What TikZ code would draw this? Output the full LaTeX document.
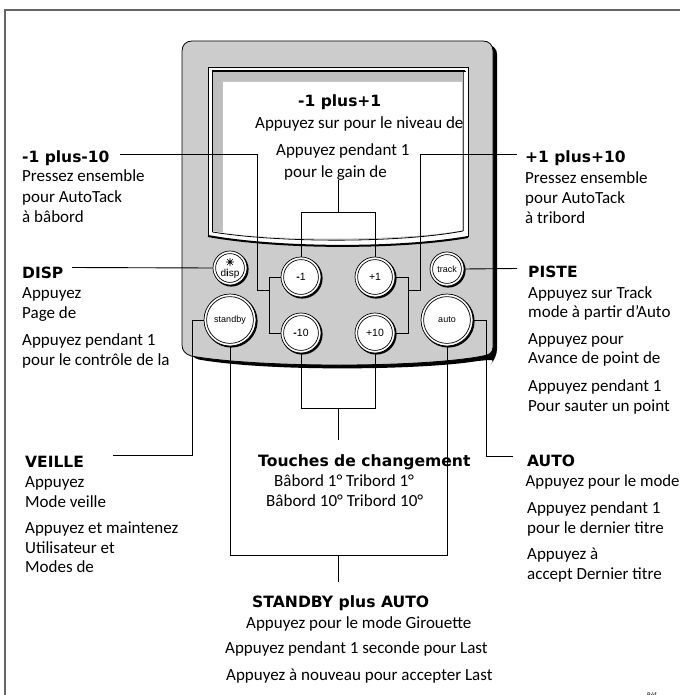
\documentclass[tikz,border=0pt]{standalone}
\usepackage{fontspec}
\setmainfont{Carlito}
\newfontfamily\btnfont{Liberation Sans}
\newfontfamily\headfont{DejaVu Sans}
\tikzset{
  wire/.style={draw=black,line width=0.9pt},
  txt/.style={anchor=base west,inner sep=0pt,font=\fontsize{17}{17}\selectfont},
  txtfit/.style={anchor=base west,inner sep=0pt,font=\fontsize{16.8}{17}\selectfont},
  hb/.style={anchor=base west,inner sep=0pt,font=\headfont\bfseries\fontsize{15.5}{15}\selectfont},
  hc/.style={anchor=base west,inner sep=0pt,font=\headfont\bfseries\fontsize{15.6}{15}\selectfont},
  btn/.style={circle,draw=black,line width=0.7pt,fill=white,inner sep=0pt,font=\btnfont\fontsize{9}{9}\selectfont},
  numbtn/.style={btn,font=\btnfont\fontsize{10.5}{10}\selectfont},
  ring/.style={draw=black,line width=0.7pt},
  shadow/.style={fill=black,draw=none}
}
\newcommand{\Btn}[6]{% style, name, x, y, radius, label
  \fill[shadow] (#3+1.2,#4+1.2) circle ({#5+0.4});
  \node[#1,minimum size={2*#5 pt}] (#2) at (#3,#4) {#6};
  \draw[ring] (#3,#4) circle ({#5-2.6});
}
\begin{document}
\begin{tikzpicture}[x=1pt,y=-1pt]
\useasboundingbox (0,0) rectangle (680,695);
\fill[white] (0,0) rectangle (680,695);
% page frame
\draw[draw=black!60,line width=1.8pt] (5,695) -- (5,10) -- (680,10);
% device shadow
\fill[black,rounded corners=9pt] (300,45) -- (497,45) -- (497,358)
  .. controls (495,360) and (490,360) .. (484,360)
  .. controls (420,370) and (270,372) .. (190,358) -- (190,300) -- cycle;
% device body
\draw[fill=black!20,draw=black,line width=0.8pt] (192,41) -- (483,41)
  .. controls (489,41) and (493,45) .. (493,51) -- (493,347)
  .. controls (493,353) and (489,355) .. (483,356)
  .. controls (420,368) and (260,368) .. (191,356)
  .. controls (185,354) and (182,350) .. (182,345)
  -- (182,51) .. controls (182,45) and (186,41) .. (192,41) -- cycle;
% screen
\fill[white] (208,67) -- (468,67) -- (468,237)
  .. controls (400,249) and (280,249) .. (208,236) -- cycle;
\draw[draw=black,line width=0.7pt] (208,236) -- (208,67) -- (468,67) -- (468,237);
\draw[draw=black,line width=2pt] (208,236) .. controls (280,249) and (400,249) .. (468,237);
\fill[black!25] (213,71) -- (463,71) -- (463,231)
  .. controls (400,242) and (280,242) .. (213,231) -- cycle;
\fill[white] (223,82) -- (462,82) -- (462,230.5)
  .. controls (400,241) and (280,241) .. (223,232.5) -- cycle;
\draw[draw=black,line width=1.6pt] (212.5,232) -- (212.5,71) -- (465,71);
\draw[draw=black,line width=1.3pt] (465,71) -- (465,72);
\draw[draw=black!70,line width=0.8pt] (463,72) -- (463,231);
\draw[draw=black,line width=0.8pt] (212.5,232) .. controls (280,243) and (400,243) .. (463,231);
% buttons
\Btn{btn}{bdisp}{230}{268}{17}{}
\Btn{numbtn}{bminus}{301}{277}{20}{\textbf{-}1}
\Btn{numbtn}{bplus}{375}{277}{20}{+1}
\Btn{numbtn}{bminusten}{301}{333}{20}{\textbf{-}10}
\Btn{numbtn}{bplusten}{375}{333}{20}{+10}
\Btn{btn}{btrack}{447}{269}{17}{track}
\Btn{btn}{bstandby}{230}{320}{26}{standby}
\Btn{btn}{bauto}{447}{320}{26}{auto}
\node[inner sep=0pt,font=\btnfont\fontsize{10}{10}\selectfont] (ldisp) at (230,274) {d\textbf{i}sp};
\fill[black] (230,262) circle (1.7);
\draw[line width=0.6pt] (226,262) -- (234,262) (230,258) -- (230,266) (227.2,259.2) -- (232.8,264.8) (227.2,264.8) -- (232.8,259.2);
% coordinates
\coordinate (lstart) at (120,154.5);
\coordinate (rstart) at (517,154.5);
\coordinate (ltop) at (257,154.5);
\coordinate (lfoot) at (257,290);
\coordinate (rtop) at (420,154.5);
\coordinate (rfoot) at (420,290);
\coordinate (dispend) at (72,267.5);
\coordinate (trackend) at (517,268.5);
\coordinate (mtop) at (338,212);
\coordinate (mend) at (338,180);
\coordinate (bbar) at (338,408);
\coordinate (bend) at (338,440);
\coordinate (sbar) at (338,555);
\coordinate (send) at (338,582);
% connectors
\draw[wire] (lstart) -- (ltop) -- (lfoot) -- (269,290);
\draw[wire] (bminus.west) -- (269,277) -- (269,333) -- (bminusten.west);
\draw[wire] (rstart) -- (rtop) -- (rfoot) -- (408,290);
\draw[wire] (bplus.east) -- (408,277) -- (408,333) -- (bplusten.east);
\draw[wire] (bminus.north) -- (301,212) -- (375,212) -- (bplus.north);
\draw[wire] (mtop) -- (mend);
\draw[wire] (dispend) -- (bdisp.west);
\draw[wire] (btrack.east) -- (trackend);
\draw[wire] (bstandby.west) -- (192,320) -- (192,455) -- (113,455);
\draw[wire] (bstandby.south) -- (230,555) -- (447,555) -- (bauto.south);
\draw[wire] (sbar) -- (send);
\draw[wire] (bminusten.south) -- (301,408) -- (375,408) -- (bplusten.south);
\draw[wire] (bbar) -- (bend);
\draw[wire] (bauto.east) -- (486,320) -- (486,456) -- (513,456);
% text
\node[hb] (t1) at (298,107) {-1 plus+1};
\node[txt] (t2) at (255,129) {Appuyez sur pour le niveau de};
\node[txt] (t3) at (276,156) {Appuyez pendant 1};
\node[txt] (t4) at (284,178) {pour le gain de};
\node[hb] (a1) at (22,162) {-1 plus-10};
\node[txt] (a2) at (22,182) {Pressez ensemble};
\node[txt] (a3) at (22,202) {pour AutoTack};
\node[txt] (a4) at (22,222) {à bâbord};
\node[hb] (b1) at (525,163) {+1 plus+10};
\node[txt] (b2) at (525,183) {Pressez ensemble};
\node[txt] (b3) at (525,203) {pour AutoTack};
\node[txt] (b4) at (525,223) {à tribord};
\node[hb] (c1) at (22,278) {DISP};
\node[txt] (c2) at (22,298) {Appuyez};
\node[txt] (c3) at (22,318) {Page de};
\node[txt] (c4) at (22,345) {Appuyez pendant 1};
\node[txt] (c5) at (22,365) {pour le contrôle de la};
\node[hb] (d1) at (528,277) {PISTE};
\node[txt] (d2) at (528,298) {Appuyez sur Track};
\node[txt] (d3) at (528,317) {mode à partir d'Auto};
\node[txt] (d4) at (528,344) {Appuyez pour};
\node[txt] (d5) at (528,363) {Avance de point de};
\node[txt] (d6) at (528,391) {Appuyez pendant 1};
\node[txt] (d7) at (528,411) {Pour sauter un point};
\node[hb] (e1) at (25,467) {VEILLE};
\node[txt] (e2) at (25,487) {Appuyez};
\node[txt] (e3) at (25,507) {Mode veille};
\node[txt] (e4) at (25,533) {Appuyez et maintenez};
\node[txt] (e5) at (25,553) {Utilisateur et};
\node[txt] (e6) at (25,572) {Modes de};
\node[hc] (f1) at (258,466) {Touches de changement};
\node[txt] (f2) at (274,486) {Bâbord 1° Tribord 1°};
\node[txt] (f3) at (266,506) {Bâbord 10° Tribord 10°};
\node[hb] (g1) at (527,466) {AUTO};
\node[txtfit] (g2) at (525.5,486) {Appuyez pour le mode};
\node[txt] (g3) at (527,513) {Appuyez pendant 1};
\node[txt] (g4) at (527,533) {pour le dernier titre};
\node[txt] (g5) at (527,559) {Appuyez à};
\node[txt] (g6) at (527,579) {accept Dernier titre};
\node[hc] (h1) at (252,607) {STANDBY plus AUTO};
\node[txt] (h2) at (246,628) {Appuyez pour le mode Girouette};
\node[txt] (h3) at (225,653) {Appuyez pendant 1 seconde pour Last};
\node[txt] (h4) at (226,680) {Appuyez à nouveau pour accepter Last};
\node[anchor=base west,inner sep=0pt,font=\fontsize{7}{7}\selectfont] (ref) at (647,697) {Réf};
\end{tikzpicture}
\end{document}
